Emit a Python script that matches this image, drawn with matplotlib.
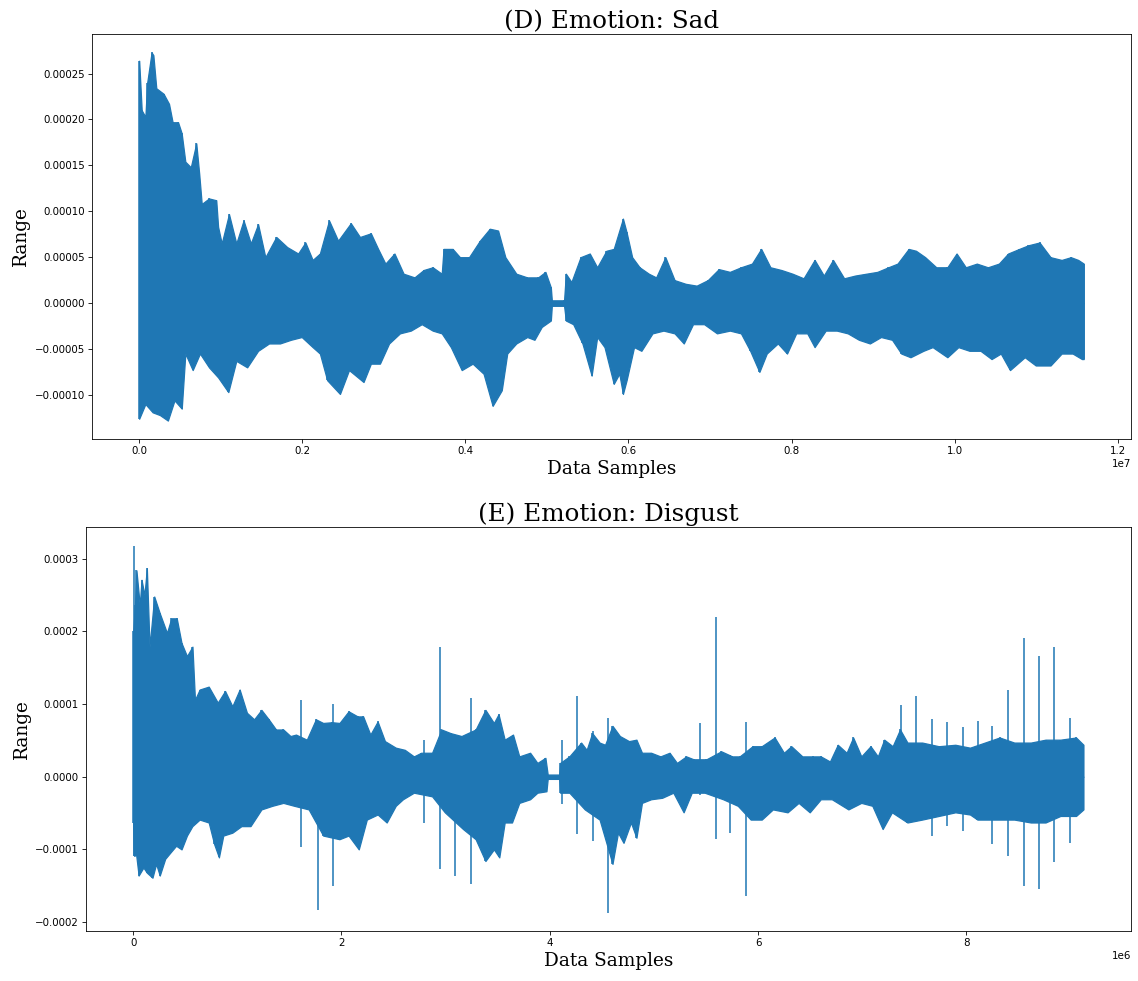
import matplotlib
matplotlib.use("Agg")
import matplotlib.pyplot as plt

WAVE = "#1f77b4"

# ---- (D) Sad: amplitude envelope, x in millions of samples, y in Range units ----
sad_up_x = [0.0, 0.031, 0.076, 0.098, 0.152, 0.174, 0.21, 0.299, 0.366, 0.41, 0.477, 0.521,
            0.566, 0.633, 0.70, 0.736, 0.767, 0.856, 0.945, 0.968, 1.012, 1.101, 1.191, 1.28,
            1.369, 1.458, 1.547, 1.681, 1.815, 1.949, 2.038, 2.127, 2.216, 2.328, 2.439, 2.595,
            2.707, 2.841, 2.93, 3.019, 3.13, 3.242, 3.376, 3.487, 3.599, 3.71, 3.732, 3.844,
            3.933, 4.045, 4.178, 4.299, 4.401, 4.49, 4.624, 4.758, 4.892, 4.981, 5.048,
            5.06, 5.21,
            5.232, 5.30, 5.412, 5.525, 5.616, 5.729, 5.819, 5.932, 5.977, 6.045, 6.136, 6.249,
            6.339, 6.452, 6.565, 6.701, 6.836, 6.972, 7.107, 7.243, 7.379, 7.514, 7.627, 7.74,
            7.876, 8.011, 8.147, 8.282, 8.395, 8.508, 8.644, 8.78, 8.915, 9.051, 9.186, 9.299,
            9.435, 9.525, 9.638, 9.774, 9.91, 10.023, 10.136, 10.271, 10.407, 10.542, 10.655,
            10.791, 10.904, 11.04, 11.175, 11.311, 11.424, 11.514, 11.582]
sad_up_y = [26.4e-5, 21.0e-5, 20.3e-5, 24.0e-5, 27.3e-5, 27.0e-5, 23.4e-5, 22.8e-5, 21.7e-5,
            19.7e-5, 19.7e-5, 18.5e-5, 15.4e-5, 14.8e-5, 17.4e-5, 14.1e-5, 10.8e-5, 11.4e-5,
            11.2e-5, 8.3e-5, 6.5e-5, 9.7e-5, 6.5e-5, 9.0e-5, 6.5e-5, 8.6e-5, 5.0e-5, 7.2e-5,
            6.1e-5, 5.4e-5, 6.6e-5, 4.7e-5, 5.4e-5, 9.0e-5, 6.8e-5, 8.7e-5, 7.2e-5, 7.6e-5,
            5.9e-5, 4.3e-5, 5.4e-5, 3.2e-5, 2.8e-5, 3.6e-5, 3.9e-5, 3.2e-5, 5.9e-5, 5.9e-5,
            5.0e-5, 5.0e-5, 6.8e-5, 8.1e-5, 7.9e-5, 5.0e-5, 3.2e-5, 2.8e-5, 2.8e-5, 3.4e-5,
            1.7e-5,
            0.3e-5, 0.3e-5,
            3.2e-5, 2.3e-5, 5.0e-5, 5.4e-5, 3.9e-5, 5.7e-5, 5.9e-5, 9.2e-5, 7.7e-5, 5.0e-5,
            3.9e-5, 3.2e-5, 2.8e-5, 5.0e-5, 2.5e-5, 2.1e-5, 1.9e-5, 2.5e-5, 3.7e-5, 3.4e-5,
            3.9e-5, 4.3e-5, 5.9e-5, 3.9e-5, 3.6e-5, 3.2e-5, 2.7e-5, 4.7e-5, 3.0e-5, 4.7e-5,
            2.7e-5, 3.0e-5, 3.2e-5, 3.4e-5, 3.9e-5, 4.3e-5, 5.9e-5, 5.7e-5, 5.0e-5, 3.9e-5,
            3.9e-5, 5.4e-5, 3.9e-5, 4.3e-5, 3.9e-5, 4.3e-5, 5.4e-5, 5.9e-5, 6.3e-5, 6.6e-5,
            5.0e-5, 4.7e-5, 5.0e-5, 4.7e-5, 4.3e-5]

sad_lo_x = [0.0, 0.076, 0.165, 0.254, 0.352, 0.433, 0.522, 0.566, 0.656, 0.745, 0.856, 0.968,
            1.093, 1.191, 1.324, 1.458, 1.592, 1.726, 1.86, 1.993, 2.127, 2.216, 2.305, 2.462,
            2.573, 2.751, 2.841, 2.952, 3.064, 3.197, 3.331, 3.465, 3.599, 3.71, 3.822, 3.955,
            4.089, 4.223, 4.334, 4.446, 4.513, 4.624, 4.758, 4.847, 4.936, 5.048,
            5.06, 5.21,
            5.232, 5.322, 5.435, 5.548, 5.616, 5.706, 5.819, 5.887, 5.932, 5.977, 6.068, 6.158,
            6.294, 6.429, 6.565, 6.678, 6.791, 6.927, 7.085, 7.243, 7.379, 7.492, 7.605, 7.695,
            7.831, 7.944, 8.056, 8.192, 8.282, 8.418, 8.554, 8.689, 8.825, 8.96, 9.096, 9.232,
            9.345, 9.458, 9.616, 9.729, 9.91, 10.045, 10.181, 10.316, 10.452, 10.565, 10.678,
            10.859, 10.994, 11.175, 11.311, 11.446, 11.56, 11.582]
sad_lo_y = [-12.6e-5, -11.0e-5, -11.9e-5, -12.2e-5, -12.8e-5, -10.6e-5, -11.5e-5, -5.5e-5,
            -7.3e-5, -5.5e-5, -7.0e-5, -8.1e-5, -9.7e-5, -6.3e-5, -7.0e-5, -5.2e-5, -4.4e-5,
            -4.4e-5, -4.0e-5, -3.7e-5, -4.8e-5, -5.5e-5, -8.4e-5, -9.9e-5, -7.3e-5, -8.6e-5,
            -6.6e-5, -6.6e-5, -4.4e-5, -3.3e-5, -3.0e-5, -2.3e-5, -3.0e-5, -3.3e-5, -4.8e-5,
            -7.3e-5, -6.6e-5, -7.7e-5, -11.2e-5, -9.5e-5, -5.5e-5, -4.4e-5, -3.7e-5, -4.0e-5,
            -2.6e-5, -1.9e-5,
            -0.3e-5, -0.3e-5,
            -1.9e-5, -2.3e-5, -4.4e-5, -7.9e-5, -3.7e-5, -4.8e-5, -8.8e-5, -7.7e-5, -9.9e-5,
            -8.4e-5, -4.8e-5, -5.2e-5, -3.3e-5, -3.0e-5, -3.3e-5, -4.4e-5, -2.3e-5, -2.3e-5,
            -3.3e-5, -3.0e-5, -3.3e-5, -5.2e-5, -7.5e-5, -5.5e-5, -4.4e-5, -5.5e-5, -3.3e-5,
            -3.3e-5, -4.8e-5, -3.0e-5, -3.0e-5, -3.3e-5, -4.0e-5, -4.4e-5, -3.7e-5, -4.0e-5,
            -5.5e-5, -5.9e-5, -5.2e-5, -4.8e-5, -5.9e-5, -4.8e-5, -5.2e-5, -5.2e-5, -6.1e-5,
            -5.5e-5, -7.3e-5, -5.9e-5, -6.8e-5, -6.8e-5, -5.5e-5, -5.5e-5, -6.1e-5, -6.1e-5]

# ---- (E) Disgust: amplitude envelope ----
dis_up_x = [0.0, 0.017, 0.031, 0.063, 0.08, 0.108, 0.131, 0.157, 0.202, 0.255, 0.324, 0.366,
            0.418, 0.464, 0.516, 0.569, 0.593, 0.638, 0.725, 0.812, 0.882, 0.952, 1.022, 1.092,
            1.161, 1.231, 1.301, 1.371, 1.441, 1.51, 1.563, 1.667, 1.754, 1.824, 1.91, 1.981,
            2.068, 2.155, 2.208, 2.277, 2.347, 2.417, 2.521, 2.608, 2.695, 2.765, 2.87, 2.96,
            3.048, 3.152, 3.288, 3.382, 3.463, 3.508, 3.567, 3.647, 3.707, 3.811, 3.881, 3.958,
            3.98, 4.09,
            4.10, 4.188, 4.301, 4.354, 4.407, 4.478, 4.531, 4.602, 4.673, 4.761, 4.832, 4.885,
            4.973, 5.062, 5.15, 5.221, 5.31, 5.381, 5.504, 5.646, 5.752, 5.823, 5.947, 6.035,
            6.159, 6.248, 6.319, 6.425, 6.531, 6.602, 6.69, 6.765, 6.85, 6.913, 6.991, 7.08,
            7.15, 7.211, 7.292, 7.363, 7.434, 7.576, 7.735, 7.894, 8.035, 8.177, 8.319, 8.46,
            8.619, 8.76, 8.903, 9.053, 9.124]
dis_up_y = [20.0e-5, 23.6e-5, 28.4e-5, 23.6e-5, 27.1e-5, 25.0e-5, 28.7e-5, 17.9e-5, 24.8e-5,
            22.5e-5, 19.8e-5, 21.8e-5, 21.8e-5, 18.4e-5, 16.6e-5, 17.9e-5, 10.6e-5, 12.0e-5,
            12.4e-5, 10.2e-5, 11.8e-5, 9.7e-5, 12.0e-5, 8.8e-5, 7.9e-5, 9.2e-5, 7.9e-5, 6.5e-5,
            6.5e-5, 5.6e-5, 5.8e-5, 5.1e-5, 7.9e-5, 7.4e-5, 7.5e-5, 7.4e-5, 9.0e-5, 8.3e-5,
            8.3e-5, 5.8e-5, 7.6e-5, 4.9e-5, 4.0e-5, 3.7e-5, 2.8e-5, 3.3e-5, 3.3e-5, 6.5e-5,
            6.0e-5, 5.6e-5, 6.5e-5, 9.2e-5, 7.4e-5, 8.6e-5, 5.1e-5, 5.8e-5, 2.8e-5, 3.3e-5,
            1.9e-5, 2.6e-5,
            0.3e-5, 0.3e-5,
            1.9e-5, 2.8e-5, 4.7e-5, 3.7e-5, 6.0e-5, 4.7e-5, 4.4e-5, 7.0e-5, 5.6e-5, 4.9e-5,
            5.1e-5, 3.3e-5, 3.3e-5, 2.8e-5, 3.3e-5, 1.9e-5, 2.8e-5, 2.4e-5, 2.4e-5, 3.5e-5,
            2.8e-5, 2.8e-5, 4.2e-5, 4.2e-5, 5.4e-5, 3.3e-5, 4.2e-5, 2.8e-5, 2.8e-5, 2.8e-5,
            2.1e-5, 4.4e-5, 3.3e-5, 5.4e-5, 2.8e-5, 4.2e-5, 2.8e-5, 5.1e-5, 4.2e-5, 6.5e-5,
            4.7e-5, 4.7e-5, 4.2e-5, 4.4e-5, 4.0e-5, 4.7e-5, 5.4e-5, 4.7e-5, 4.7e-5, 5.1e-5,
            5.1e-5, 5.4e-5, 4.4e-5]

dis_lo_x = [0.0, 0.01, 0.028, 0.052, 0.098, 0.131, 0.185, 0.22, 0.255, 0.307, 0.359, 0.412,
            0.464, 0.516, 0.568, 0.638, 0.725, 0.778, 0.823, 0.865, 0.952, 1.039, 1.126, 1.231,
            1.336, 1.441, 1.545, 1.685, 1.824, 1.98, 2.068, 2.166, 2.243, 2.347, 2.434, 2.521,
            2.59, 2.695, 2.87, 2.992, 3.167, 3.288, 3.382, 3.463, 3.515, 3.567, 3.637, 3.707,
            3.811, 3.881, 3.968,
            3.98, 4.09,
            4.10, 4.188, 4.336, 4.478, 4.602, 4.655, 4.708, 4.779, 4.832, 4.885, 4.973, 5.079,
            5.186, 5.285, 5.363, 5.487, 5.664, 5.805, 5.929, 6.035, 6.142, 6.283, 6.389, 6.496,
            6.602, 6.708, 6.867, 6.991, 7.097, 7.196, 7.285, 7.434, 7.575, 7.735, 7.894, 8.035,
            8.106, 8.301, 8.46, 8.619, 8.76, 8.903, 9.053, 9.124]
dis_lo_y = [-6.3e-5, -10.9e-5, -10.7e-5, -13.6e-5, -12.5e-5, -13.2e-5, -13.9e-5, -12.0e-5,
            -13.6e-5, -11.3e-5, -10.4e-5, -9.5e-5, -10.0e-5, -8.1e-5, -6.8e-5, -5.9e-5, -6.3e-5,
            -9.3e-5, -11.1e-5, -8.1e-5, -7.7e-5, -6.8e-5, -6.8e-5, -4.5e-5, -4.0e-5, -3.6e-5,
            -4.0e-5, -4.5e-5, -8.1e-5, -8.6e-5, -8.1e-5, -10.0e-5, -5.9e-5, -5.2e-5, -6.3e-5,
            -4.0e-5, -3.1e-5, -2.2e-5, -2.7e-5, -4.9e-5, -7.2e-5, -8.6e-5, -11.6e-5, -10.0e-5,
            -11.1e-5, -6.3e-5, -6.3e-5, -3.6e-5, -3.1e-5, -2.2e-5, -2.0e-5,
            -0.3e-5, -0.3e-5,
            -2.2e-5, -2.2e-5, -4.5e-5, -5.9e-5, -12.0e-5, -7.7e-5, -9.1e-5, -6.3e-5, -8.4e-5,
            -3.6e-5, -3.1e-5, -2.9e-5, -2.2e-5, -4.9e-5, -2.2e-5, -2.2e-5, -3.1e-5, -4.0e-5,
            -5.9e-5, -5.9e-5, -4.5e-5, -4.9e-5, -3.6e-5, -4.9e-5, -3.1e-5, -3.1e-5, -4.5e-5,
            -3.6e-5, -4.0e-5, -7.2e-5, -4.9e-5, -6.3e-5, -5.9e-5, -5.4e-5, -4.9e-5, -5.2e-5,
            -5.9e-5, -5.9e-5, -5.9e-5, -6.3e-5, -6.3e-5, -5.4e-5, -5.4e-5, -4.5e-5]

# isolated clicks in the Disgust recording: position, top, bottom
dis_spike_x = [0.01, 1.615, 1.772, 1.915, 2.793, 2.943, 3.093, 3.243, 4.117, 4.265, 4.414,
               4.559, 5.441, 5.593, 5.735, 5.887, 7.377, 7.519, 7.671, 7.816, 7.968, 8.110,
               8.248, 8.400, 8.552, 8.697, 8.846, 8.995]
dis_spike_hi = [31.8e-5, 10.5e-5, 4.0e-5, 10.0e-5, 5.1e-5, 17.9e-5, 5.0e-5, 10.8e-5, 5.1e-5,
                11.1e-5, 6.3e-5, 8.1e-5, 7.4e-5, 22.0e-5, 3.0e-5, 7.5e-5, 9.9e-5, 11.1e-5,
                7.9e-5, 7.5e-5, 6.9e-5, 7.6e-5, 7.0e-5, 12.0e-5, 19.1e-5, 16.6e-5, 17.9e-5,
                8.1e-5]
dis_spike_lo = [-10.9e-5, -9.7e-5, -18.4e-5, -15.0e-5, -6.3e-5, -12.7e-5, -13.6e-5, -14.8e-5,
                -3.8e-5, -7.9e-5, -8.8e-5, -18.7e-5, -2.5e-5, -8.6e-5, -7.7e-5, -16.4e-5,
                -4.0e-5, -4.0e-5, -8.1e-5, -6.8e-5, -7.5e-5, -4.5e-5, -9.3e-5, -10.9e-5,
                -15.0e-5, -15.5e-5, -11.8e-5, -9.1e-5]

MSAMPLES = 1e6
DPI = 74
title_font = dict(family="DejaVu Serif", size=24)
label_font = dict(family="DejaVu Serif", size=18)


def draw_wave(ax, up_x, up_y, lo_x, lo_y):
    ux = [v * MSAMPLES for v in up_x]
    lx = [v * MSAMPLES for v in lo_x]
    ax.fill_between(ux, 0, up_y, color=WAVE, linewidth=1.2, edgecolor=WAVE)
    ax.fill_between(lx, lo_y, 0, color=WAVE, linewidth=1.2, edgecolor=WAVE)
    # sample columns at each envelope reading
    ax.vlines(ux, 0, up_y, color=WAVE, linewidth=1.5)
    ax.vlines(lx, lo_y, 0, color=WAVE, linewidth=1.5)


fig = plt.figure(figsize=(1138 / DPI, 981 / DPI), dpi=DPI)

ax1 = fig.add_axes([0.0808, 0.5525, 0.913, 0.4128])
draw_wave(ax1, sad_up_x, sad_up_y, sad_lo_x, sad_lo_y)
ax1.set_title("(D) Emotion: Sad", fontdict=title_font)
ax1.set_xlabel("Data Samples", fontdict=label_font)
ax1.set_ylabel("Range", fontdict=label_font)

ax2 = fig.add_axes([0.0753, 0.051, 0.9185, 0.4115])
draw_wave(ax2, dis_up_x, dis_up_y, dis_lo_x, dis_lo_y)
ax2.vlines([v * MSAMPLES for v in dis_spike_x], dis_spike_lo, dis_spike_hi,
           color=WAVE, linewidth=1.5)
ax2.set_title("(E) Emotion: Disgust", fontdict=title_font)
ax2.set_xlabel("Data Samples", fontdict=label_font)
ax2.set_ylabel("Range", fontdict=label_font)

fig.savefig("out.png", dpi=DPI)
